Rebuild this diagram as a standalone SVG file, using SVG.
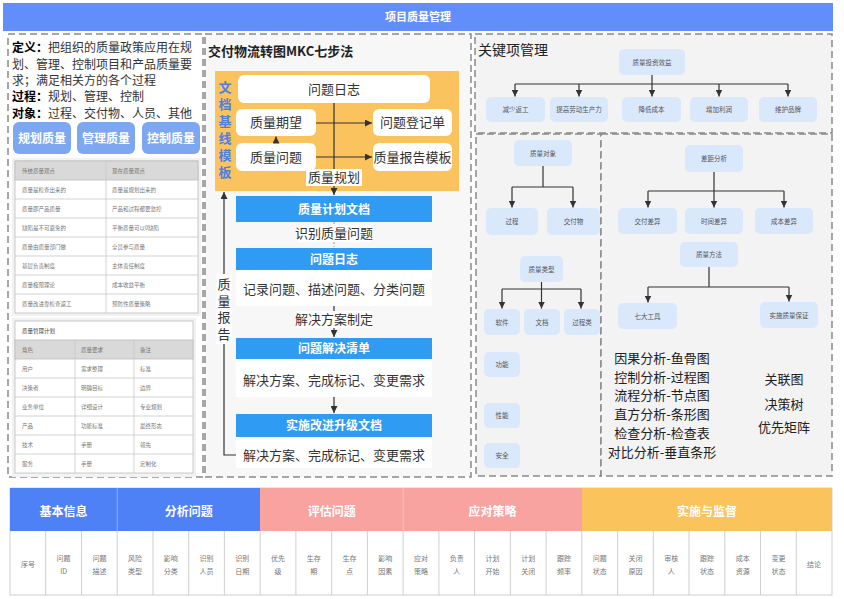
<svg xmlns="http://www.w3.org/2000/svg" width="844" height="599" viewBox="0 0 844 599">
<defs>
<style>
text{font-family:"Noto Sans CJK SC","Noto Sans",sans-serif}
.dash{fill:none;stroke:#8a8a8a;stroke-width:1.5;stroke-dasharray:7 4}
.lb{fill:#DAE8FC}
.tn{font-size:6.5px;fill:#555;text-anchor:middle}
.tt{font-size:5.5px;fill:#777}
.tb{fill:#fff;stroke:#bdbdbd;stroke-width:0.8}
.th{fill:#d9d9d9;stroke:#bdbdbd;stroke-width:0.8}
.gl{stroke:#c8c8c8;stroke-width:0.8}
.cn{fill:none;stroke:#333;stroke-width:1.2}
.wb{fill:#fff}
.mt{font-size:13px;fill:#333;text-anchor:middle}
.bh{fill:#2F9BF3}
.bt{font-size:12px;font-weight:bold;fill:#fff;text-anchor:middle}
.qt{font-size:7px;fill:#777;text-anchor:middle}
.ht{font-size:12px;font-weight:bold;fill:#fff;text-anchor:middle}
.vl{stroke:#c4c4c4;stroke-width:0.8}
.vt{writing-mode:vertical-rl;text-orientation:upright}
</style>
<marker id="ah" viewBox="0 0 8 8" markerWidth="7" markerHeight="7" refX="8" refY="4" orient="auto" markerUnits="userSpaceOnUse"><path d="M0,0 L8,4 L0,8 z" fill="#333"/></marker>
</defs>
<rect width="844" height="599" fill="#fff"/>

<g id="header">
<rect x="3" y="3" width="830" height="28" fill="#618EFA"/>
<text x="418" y="21" font-size="11" font-weight="bold" fill="#fff" text-anchor="middle">项目质量管理</text>
</g>

<g id="panels">
<rect x="8" y="34" width="195" height="443" fill="#fff" class="dash"/>
<rect x="205" y="34" width="266" height="443" fill="#F7F7F7" style="stroke:#8a8a8a;stroke-width:1.5;stroke-dasharray:7 4"/>
<rect x="475" y="34" width="357" height="99" fill="#F3F3F3" style="stroke:#8a8a8a;stroke-width:1.5;stroke-dasharray:7 4"/>
<rect x="476" y="134" width="125" height="342" fill="#F3F3F3" style="stroke:#8a8a8a;stroke-width:1.5;stroke-dasharray:7 4"/>
<rect x="601" y="134" width="231" height="342" fill="#F3F3F3" style="stroke:#8a8a8a;stroke-width:1.5;stroke-dasharray:7 4"/>
</g>

<g id="definition">
<text x="12" y="52" font-size="12" fill="#333"><tspan font-weight="bold" fill="#000">定义：</tspan>把组织的质量政策应用在规</text>
<text x="12" y="68.5" font-size="12" fill="#333">划、管理、控制项目和产品质量要</text>
<text x="12" y="85" font-size="12" fill="#333">求；满足相关方的各个过程</text>
<text x="12" y="101" font-size="12" fill="#333"><tspan font-weight="bold" fill="#000">过程：</tspan>规划、管理、控制</text>
<text x="12" y="117.5" font-size="12" fill="#333"><tspan font-weight="bold" fill="#000">对象：</tspan>过程、交付物、人员、其他</text>
</g>

<g id="btn-plan"><rect x="13" y="122" width="58" height="32" rx="6" fill="#7EA7F2"/><text x="42" y="142.5" class="bt">规划质量</text></g>
<g id="btn-manage"><rect x="77" y="122" width="58" height="32" rx="6" fill="#7EA7F2"/><text x="106" y="142.5" class="bt">管理质量</text></g>
<g id="btn-control"><rect x="142" y="122" width="58" height="32" rx="6" fill="#7EA7F2"/><text x="171" y="142.5" class="bt">控制质量</text></g>

<g id="table-views">
<rect x="12" y="158" width="189" height="158" fill="#f2f2f2"/>
<rect x="15" y="161" width="183" height="152" class="tb"/>
<rect x="15" y="161" width="183" height="19" class="th"/>
<line x1="15" y1="199" x2="198" y2="199" class="gl"/>
<line x1="15" y1="218" x2="198" y2="218" class="gl"/>
<line x1="15" y1="237" x2="198" y2="237" class="gl"/>
<line x1="15" y1="256" x2="198" y2="256" class="gl"/>
<line x1="15" y1="275" x2="198" y2="275" class="gl"/>
<line x1="15" y1="294" x2="198" y2="294" class="gl"/>
<line x1="106" y1="161" x2="106" y2="313" class="gl"/>
<text x="22" y="172.5" class="tt">传统质量观点</text><text x="112" y="172.5" class="tt">现在质量观点</text>
<text x="22" y="191.5" class="tt">质量是检查出来的</text><text x="112" y="191.5" class="tt">质量是规划出来的</text>
<text x="22" y="210.5" class="tt">质量即产品质量</text><text x="112" y="210.5" class="tt">产品和过程都要监控</text>
<text x="22" y="229.5" class="tt">缺陷是不可避免的</text><text x="112" y="229.5" class="tt">平衡质量可以0缺陷</text>
<text x="22" y="248.5" class="tt">质量由质量部门做</text><text x="112" y="248.5" class="tt">全员参与质量</text>
<text x="22" y="267.5" class="tt">基层负责制度</text><text x="112" y="267.5" class="tt">主体责任制度</text>
<text x="22" y="286.5" class="tt">质量极限理论</text><text x="112" y="286.5" class="tt">成本收益平衡</text>
<text x="22" y="305.5" class="tt">质量改进靠检查返工</text><text x="112" y="305.5" class="tt">预防性质量策略</text>
</g>

<g id="table-plan">
<rect x="12" y="318" width="184" height="159" fill="#f2f2f2"/>
<rect x="15" y="321" width="178" height="152" class="tb"/>
<rect x="15" y="340" width="178" height="19" class="th"/>
<line x1="15" y1="378" x2="193" y2="378" class="gl"/>
<line x1="15" y1="397" x2="193" y2="397" class="gl"/>
<line x1="15" y1="416" x2="193" y2="416" class="gl"/>
<line x1="15" y1="435" x2="193" y2="435" class="gl"/>
<line x1="15" y1="454" x2="193" y2="454" class="gl"/>
<line x1="75" y1="340" x2="75" y2="473" class="gl"/>
<line x1="134" y1="340" x2="134" y2="473" class="gl"/>
<text x="22" y="332.5" class="tt" style="fill:#444">质量管理计划</text>
<text x="22" y="351.5" class="tt">角色</text><text x="81" y="351.5" class="tt">质量要求</text><text x="140" y="351.5" class="tt">备注</text>
<text x="22" y="370.5" class="tt">用户</text><text x="81" y="370.5" class="tt">需求整理</text><text x="140" y="370.5" class="tt">标准</text>
<text x="22" y="389.5" class="tt">决策者</text><text x="81" y="389.5" class="tt">明确目标</text><text x="140" y="389.5" class="tt">边界</text>
<text x="22" y="408.5" class="tt">业务单位</text><text x="81" y="408.5" class="tt">详细设计</text><text x="140" y="408.5" class="tt">专业规划</text>
<text x="22" y="427.5" class="tt">产品</text><text x="81" y="427.5" class="tt">功能标准</text><text x="140" y="427.5" class="tt">最终形态</text>
<text x="22" y="446.5" class="tt">技术</text><text x="81" y="446.5" class="tt">手册</text><text x="140" y="446.5" class="tt">领先</text>
<text x="22" y="465.5" class="tt">服务</text><text x="81" y="465.5" class="tt">手册</text><text x="140" y="465.5" class="tt">定制化</text>
</g>

<g id="mkc-title"><text x="208" y="55.5" font-size="13" font-weight="bold" fill="#222">交付物流转图MKC七步法</text></g>

<g id="baseline-template">
<rect x="215" y="71" width="244" height="120" fill="#FBC35E"/>
<text x="225" y="80.5" class="vt" font-size="13" font-weight="bold" fill="#4F7FE0" letter-spacing="4">文档基线模板</text>
</g>
<g id="n-issue-log-top"><rect x="238" y="75" width="192" height="28" rx="6" class="wb"/><text x="334" y="93.5" class="mt">问题日志</text></g>
<g id="n-expect"><rect x="236" y="109" width="80" height="27" rx="6" class="wb"/><text x="276" y="127" class="mt">质量期望</text></g>
<g id="n-issue"><rect x="236" y="143" width="80" height="28" rx="6" class="wb"/><text x="276" y="161.5" class="mt">质量问题</text></g>
<g id="n-register"><rect x="373" y="109" width="79" height="27" rx="6" class="wb"/><text x="412.5" y="127" class="mt">问题登记单</text></g>
<g id="n-report-tpl"><rect x="373" y="143" width="79" height="28" rx="6" class="wb"/><text x="412.5" y="161.5" class="mt">质量报告模板</text></g>

<g id="n-plan-doc"><rect x="236" y="196" width="196" height="26" class="bh"/><text x="334" y="213.5" class="bt">质量计划文档</text></g>
<g id="n-issue-log"><rect x="236" y="248" width="196" height="22" class="bh"/><text x="334" y="263.5" class="bt">问题日志</text><rect x="236" y="270" width="196" height="36" class="wb"/><text x="334" y="293.5" class="mt">记录问题、描述问题、分类问题</text></g>
<g id="n-resolve-list"><rect x="236" y="338" width="196" height="21" class="bh"/><text x="334" y="353" class="bt">问题解决清单</text><rect x="236" y="359" width="196" height="38" class="wb"/><text x="334" y="384.5" class="mt">解决方案、完成标记、变更需求</text></g>
<g id="n-improve-doc"><rect x="236" y="414" width="196" height="23" class="bh"/><text x="334" y="430" class="bt">实施改进升级文档</text><rect x="236" y="437" width="196" height="31" class="wb"/><text x="334" y="459.5" class="mt">解决方案、完成标记、变更需求</text></g>

<g id="kp-title"><text x="478" y="55" font-size="14" fill="#222">关键项管理</text></g>
<g id="k-root"><rect x="619" y="49" width="66" height="26" rx="5" class="lb"/><text x="652" y="64.5" class="tn">质量投资效益</text></g>
<g id="k1"><rect x="486" y="97" width="59" height="25" rx="5" class="lb"/><text x="515.5" y="112" class="tn">减少返工</text></g>
<g id="k2"><rect x="550" y="97" width="58" height="25" rx="5" class="lb"/><text x="579" y="112" class="tn">提高劳动生产力</text></g>
<g id="k3"><rect x="622" y="97" width="59" height="25" rx="5" class="lb"/><text x="651.5" y="112" class="tn">降低成本</text></g>
<g id="k4"><rect x="690" y="97" width="58" height="25" rx="5" class="lb"/><text x="719" y="112" class="tn">增加利润</text></g>
<g id="k5"><rect x="759" y="97" width="58" height="25" rx="5" class="lb"/><text x="788" y="112" class="tn">维护品牌</text></g>

<g id="q-object"><rect x="514" y="140" width="58" height="26" rx="5" class="lb"/><text x="543" y="155.5" class="tn">质量对象</text></g>
<g id="q-process"><rect x="486" y="208" width="52" height="27" rx="5" class="lb"/><text x="512" y="224" class="tn">过程</text></g>
<g id="q-deliverable"><rect x="547" y="208" width="53" height="27" rx="5" class="lb"/><text x="573.5" y="224" class="tn">交付物</text></g>
<g id="q-type"><rect x="520" y="256" width="43" height="26" rx="5" class="lb"/><text x="541.5" y="271.5" class="tn">质量类型</text></g>
<g id="q-software"><rect x="484" y="309" width="36" height="26" rx="5" class="lb"/><text x="502" y="324.5" class="tn">软件</text></g>
<g id="q-doc"><rect x="524" y="309" width="36" height="26" rx="5" class="lb"/><text x="542" y="324.5" class="tn">文档</text></g>
<g id="q-proc-class"><rect x="564" y="309" width="36" height="26" rx="5" class="lb"/><text x="582" y="324.5" class="tn">过程类</text></g>
<g id="q-func"><rect x="484" y="352" width="36" height="25" rx="5" class="lb"/><text x="502" y="367" class="tn">功能</text></g>
<g id="q-perf"><rect x="484" y="403" width="36" height="25" rx="5" class="lb"/><text x="502" y="418" class="tn">性能</text></g>
<g id="q-safe"><rect x="484" y="443" width="36" height="25" rx="5" class="lb"/><text x="502" y="458" class="tn">安全</text></g>

<g id="g-gap"><rect x="685" y="145" width="58" height="27" rx="5" class="lb"/><text x="714" y="161" class="tn">差距分析</text></g>
<g id="g-deliv"><rect x="618" y="208" width="59" height="26" rx="5" class="lb"/><text x="647.5" y="223.5" class="tn">交付差异</text></g>
<g id="g-time"><rect x="685" y="208" width="58" height="26" rx="5" class="lb"/><text x="714" y="223.5" class="tn">时间差异</text></g>
<g id="g-cost"><rect x="755" y="208" width="58" height="26" rx="5" class="lb"/><text x="784" y="223.5" class="tn">成本差异</text></g>
<g id="g-method"><rect x="680" y="242" width="58" height="25" rx="5" class="lb"/><text x="709" y="257" class="tn">质量方法</text></g>
<g id="g-seven"><rect x="618" y="303" width="59" height="26" rx="5" class="lb"/><text x="647.5" y="318.5" class="tn">七大工具</text></g>
<g id="g-qa"><rect x="760" y="302" width="58" height="26" rx="5" class="lb"/><text x="789" y="317.5" class="tn">实施质量保证</text></g>

<g id="tool-list" font-size="13" fill="#222" text-anchor="middle">
<text x="662" y="362.5">因果分析-鱼骨图</text>
<text x="662" y="381.5">控制分析-过程图</text>
<text x="662" y="400">流程分析-节点图</text>
<text x="662" y="418.5">直方分析-条形图</text>
<text x="662" y="437.5">检查分析-检查表</text>
<text x="662" y="456.5">对比分析-垂直条形</text>
</g>
<g id="tool-list2" font-size="13" fill="#222" text-anchor="middle">
<text x="784" y="383.5">关联图</text>
<text x="784" y="408.5">决策树</text>
<text x="784" y="431.5">优先矩阵</text>
</g>

<g id="connectors">
<line x1="334" y1="103" x2="334" y2="195" class="cn" marker-end="url(#ah)"/>
<line x1="316" y1="123" x2="372" y2="123" class="cn" marker-end="url(#ah)"/>
<line x1="316" y1="157" x2="372" y2="157" class="cn" marker-end="url(#ah)"/>
<line x1="276" y1="143" x2="276" y2="136.5" class="cn" marker-end="url(#ah)"/>
<rect x="306" y="169" width="56" height="17" fill="#fff"/>
<text x="334" y="182" class="mt">质量规划</text>
<line x1="334" y1="222" x2="334" y2="247" stroke="#999" stroke-width="1" stroke-dasharray="2 2"/>
<rect x="297" y="225" width="74" height="17" fill="#fff"/>
<text x="334" y="238" class="mt">识别质量问题</text>
<line x1="334" y1="306" x2="334" y2="337" class="cn" marker-end="url(#ah)"/>
<rect x="297" y="311" width="74" height="17" fill="#fff"/>
<text x="334" y="324" class="mt">解决方案制定</text>
<line x1="334" y1="397" x2="334" y2="413" class="cn" marker-end="url(#ah)"/>
<polyline points="236,455 224,455 224,192" class="cn" marker-end="url(#ah)"/>
<rect x="216" y="274" width="16" height="70" fill="#fff"/>
<text x="224" y="278" class="vt" font-size="13" fill="#333" letter-spacing="3.5">质量报告</text>
<polyline points="652,75 652,84" class="cn"/>
<line x1="515" y1="84" x2="788" y2="84" class="cn"/>
<line x1="515" y1="84" x2="515" y2="96.5" class="cn" marker-end="url(#ah)"/>
<line x1="579" y1="84" x2="579" y2="96.5" class="cn" marker-end="url(#ah)"/>
<line x1="652" y1="84" x2="652" y2="96.5" class="cn" marker-end="url(#ah)"/>
<line x1="719" y1="84" x2="719" y2="96.5" class="cn" marker-end="url(#ah)"/>
<line x1="788" y1="84" x2="788" y2="96.5" class="cn" marker-end="url(#ah)"/>
<polyline points="543,166 543,187" class="cn"/>
<line x1="512" y1="187" x2="573" y2="187" class="cn"/>
<line x1="512" y1="187" x2="512" y2="207.5" class="cn" marker-end="url(#ah)"/>
<line x1="573" y1="187" x2="573" y2="207.5" class="cn" marker-end="url(#ah)"/>
<polyline points="541.5,282 541.5,289" class="cn"/>
<line x1="502" y1="289" x2="581" y2="289" class="cn"/>
<line x1="502" y1="289" x2="502" y2="308.5" class="cn" marker-end="url(#ah)"/>
<line x1="541.5" y1="289" x2="541.5" y2="308.5" class="cn" marker-end="url(#ah)"/>
<line x1="581" y1="289" x2="581" y2="308.5" class="cn" marker-end="url(#ah)"/>
<polyline points="714,172 714,191" class="cn"/>
<line x1="648" y1="191" x2="784" y2="191" class="cn"/>
<line x1="648" y1="191" x2="648" y2="207.5" class="cn" marker-end="url(#ah)"/>
<line x1="714" y1="191" x2="714" y2="207.5" class="cn" marker-end="url(#ah)"/>
<line x1="784" y1="191" x2="784" y2="207.5" class="cn" marker-end="url(#ah)"/>
<polyline points="709,267 709,287" class="cn"/>
<line x1="648" y1="287" x2="789" y2="287" class="cn"/>
<line x1="648" y1="287" x2="648" y2="302.5" class="cn" marker-end="url(#ah)"/>
<line x1="789" y1="287" x2="789" y2="301.5" class="cn" marker-end="url(#ah)"/>
</g>

<g id="risk-table">
<rect x="10" y="488" width="822" height="107" fill="#fff" stroke="#c4c4c4" stroke-width="0.8"/>
<rect x="10" y="488" width="250" height="43" fill="#4E80F6"/>
<rect x="260" y="488" width="322" height="43" fill="#F9A3A0"/>
<rect x="582" y="488" width="250" height="43" fill="#FBC35C"/>
<line x1="117.2" y1="488" x2="117.2" y2="531" stroke="#fff" stroke-width="0.6" opacity="0.6"/>
<line x1="403.1" y1="488" x2="403.1" y2="531" stroke="#fff" stroke-width="0.6" opacity="0.6"/>
<text x="63.6" y="516" class="ht">基本信息</text>
<text x="188.7" y="516" class="ht">分析问题</text>
<text x="331.7" y="516" class="ht">评估问题</text>
<text x="492.5" y="516" class="ht">应对策略</text>
<text x="707" y="516" class="ht">实施与监督</text>
<g class="vl">
<line x1="45.7" y1="531" x2="45.7" y2="595"/><line x1="81.5" y1="531" x2="81.5" y2="595"/><line x1="117.2" y1="531" x2="117.2" y2="595"/><line x1="153" y1="531" x2="153" y2="595"/><line x1="188.7" y1="531" x2="188.7" y2="595"/><line x1="224.4" y1="531" x2="224.4" y2="595"/><line x1="260.2" y1="531" x2="260.2" y2="595"/><line x1="295.9" y1="531" x2="295.9" y2="595"/><line x1="331.7" y1="531" x2="331.7" y2="595"/><line x1="367.4" y1="531" x2="367.4" y2="595"/><line x1="403.1" y1="531" x2="403.1" y2="595"/><line x1="438.9" y1="531" x2="438.9" y2="595"/><line x1="474.6" y1="531" x2="474.6" y2="595"/><line x1="510.4" y1="531" x2="510.4" y2="595"/><line x1="546.1" y1="531" x2="546.1" y2="595"/><line x1="581.8" y1="531" x2="581.8" y2="595"/><line x1="617.6" y1="531" x2="617.6" y2="595"/><line x1="653.3" y1="531" x2="653.3" y2="595"/><line x1="689" y1="531" x2="689" y2="595"/><line x1="724.8" y1="531" x2="724.8" y2="595"/><line x1="760.5" y1="531" x2="760.5" y2="595"/><line x1="796.3" y1="531" x2="796.3" y2="595"/>
</g>
<text x="27.9" y="567" class="qt">序号</text>
<text x="63.6" y="560.5" class="qt">问题</text><text x="63.6" y="573.5" class="qt">ID</text>
<text x="99.4" y="560.5" class="qt">问题</text><text x="99.4" y="573.5" class="qt">描述</text>
<text x="135.1" y="560.5" class="qt">风险</text><text x="135.1" y="573.5" class="qt">类型</text>
<text x="170.8" y="560.5" class="qt">影响</text><text x="170.8" y="573.5" class="qt">分类</text>
<text x="206.6" y="560.5" class="qt">识别</text><text x="206.6" y="573.5" class="qt">人员</text>
<text x="242.3" y="560.5" class="qt">识别</text><text x="242.3" y="573.5" class="qt">日期</text>
<text x="278" y="560.5" class="qt">优先</text><text x="278" y="573.5" class="qt">级</text>
<text x="313.8" y="560.5" class="qt">生存</text><text x="313.8" y="573.5" class="qt">期</text>
<text x="349.5" y="560.5" class="qt">生存</text><text x="349.5" y="573.5" class="qt">点</text>
<text x="385.3" y="560.5" class="qt">影响</text><text x="385.3" y="573.5" class="qt">因素</text>
<text x="421" y="560.5" class="qt">应对</text><text x="421" y="573.5" class="qt">策略</text>
<text x="456.7" y="560.5" class="qt">负责</text><text x="456.7" y="573.5" class="qt">人</text>
<text x="492.5" y="560.5" class="qt">计划</text><text x="492.5" y="573.5" class="qt">开始</text>
<text x="528.2" y="560.5" class="qt">计划</text><text x="528.2" y="573.5" class="qt">关闭</text>
<text x="564" y="560.5" class="qt">跟踪</text><text x="564" y="573.5" class="qt">频率</text>
<text x="599.7" y="560.5" class="qt">问题</text><text x="599.7" y="573.5" class="qt">状态</text>
<text x="635.4" y="560.5" class="qt">关闭</text><text x="635.4" y="573.5" class="qt">原因</text>
<text x="671.2" y="560.5" class="qt">审核</text><text x="671.2" y="573.5" class="qt">人</text>
<text x="706.9" y="560.5" class="qt">跟踪</text><text x="706.9" y="573.5" class="qt">状态</text>
<text x="742.7" y="560.5" class="qt">成本</text><text x="742.7" y="573.5" class="qt">资源</text>
<text x="778.4" y="560.5" class="qt">变更</text><text x="778.4" y="573.5" class="qt">状态</text>
<text x="814.1" y="567" class="qt">结论</text>
</g>
</svg>
